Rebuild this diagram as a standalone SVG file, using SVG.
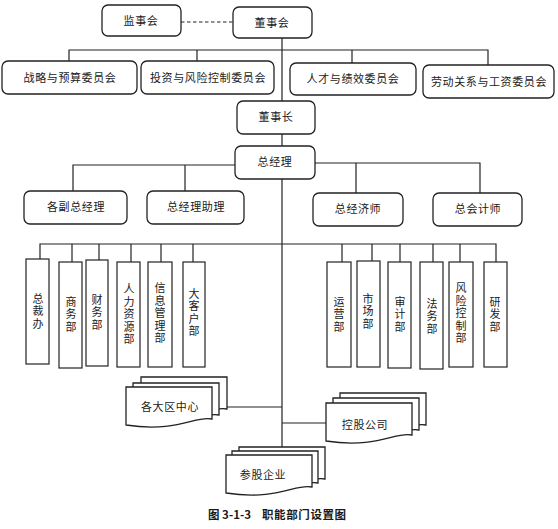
<svg xmlns="http://www.w3.org/2000/svg" xmlns:xlink="http://www.w3.org/1999/xlink" width="558" height="529" viewBox="0 0 558 529">
<style>
.bx{fill:#fff;stroke:#222;stroke-width:1.3}
.vb{fill:#fff;stroke:#222;stroke-width:1.2}
.ln{fill:none;stroke:#222;stroke-width:1.2}
.dash{fill:none;stroke:#222;stroke-width:1.2;stroke-dasharray:3.5 2.5}
text{font-family:"Noto Sans CJK SC","Liberation Serif",serif;fill:#1a1a1a;font-size:11px}
.c{text-anchor:middle;letter-spacing:0.6px}
.v{text-anchor:middle;writing-mode:vertical-rl;letter-spacing:1.5px}
.cap{font-weight:bold;font-size:11.5px}
</style>
<defs>
<path id="doc" class="bx" d="M0,0 H86 V32 C70,28 52,46 0,38 Z"/>
</defs>
<rect width="558" height="529" fill="#fff"/>
<g id="connectors">
<line class="dash" x1="181" y1="22" x2="233" y2="22"/>
<line class="ln" x1="282" y1="38" x2="282" y2="447"/>
<polyline class="ln" points="69,61 69,50 488,50 488,65"/>
<line class="ln" x1="197" y1="50" x2="197" y2="61"/>
<line class="ln" x1="352" y1="50" x2="352" y2="63"/>
<polyline class="ln" points="235,165 73,165 73,191"/>
<line class="ln" x1="185" y1="165" x2="185" y2="191"/>
<polyline class="ln" points="315,163 480,163 480,193"/>
<line class="ln" x1="356" y1="163" x2="356" y2="193"/>
<polyline class="ln" points="40,259 40,244 496,244 496,262"/>
<line class="ln" x1="72" y1="244" x2="72" y2="262"/>
<line class="ln" x1="99" y1="244" x2="99" y2="260"/>
<line class="ln" x1="131" y1="244" x2="131" y2="262"/>
<line class="ln" x1="161" y1="244" x2="161" y2="262"/>
<line class="ln" x1="193" y1="244" x2="193" y2="262"/>
<line class="ln" x1="342" y1="244" x2="342" y2="262"/>
<line class="ln" x1="372" y1="244" x2="372" y2="261"/>
<line class="ln" x1="400" y1="244" x2="400" y2="262"/>
<line class="ln" x1="433" y1="244" x2="433" y2="262"/>
<line class="ln" x1="460" y1="244" x2="460" y2="262"/>
<line class="ln" x1="227" y1="407" x2="282" y2="407"/>
<line class="ln" x1="282" y1="423" x2="326" y2="423"/>
</g>
<g id="jianshihui"><rect class="bx" x="102" y="5" width="79" height="31" rx="6"/><text class="c" x="141" y="25">监事会</text></g>
<g id="dongshihui"><rect class="bx" x="233" y="7" width="79" height="31" rx="6"/><text class="c" x="272" y="27">董事会</text></g>
<g id="zhanlue"><rect class="bx" x="2" y="61" width="135" height="33" rx="6"/><text class="c" x="70" y="82">战略与预算委员会</text></g>
<g id="touzi"><rect class="bx" x="141" y="61" width="133" height="33" rx="6"/><text class="c" x="208" y="82">投资与风险控制委员会</text></g>
<g id="rencai"><rect class="bx" x="290" y="63" width="126" height="32" rx="6"/><text class="c" x="353" y="83">人才与绩效委员会</text></g>
<g id="laodong"><rect class="bx" x="423" y="65" width="131" height="33" rx="6"/><text class="c" x="489" y="86">劳动关系与工资委员会</text></g>
<g id="dongshizhang"><rect class="bx" x="237" y="101" width="78" height="33" rx="6"/><text class="c" x="276" y="121">董事长</text></g>
<g id="zongjingli"><rect class="bx" x="235" y="146" width="80" height="33" rx="6"/><text class="c" x="275" y="166">总经理</text></g>
<g id="fuzong"><rect class="bx" x="24" y="191" width="103" height="33" rx="6"/><text class="c" x="76" y="211">各副总经理</text></g>
<g id="zhuli"><rect class="bx" x="147" y="191" width="97" height="33" rx="6"/><text class="c" x="196" y="211">总经理助理</text></g>
<g id="jingjishi"><rect class="bx" x="313" y="193" width="90" height="33" rx="6"/><text class="c" x="358" y="213">总经济师</text></g>
<g id="kuaijishi"><rect class="bx" x="433" y="193" width="89" height="33" rx="6"/><text class="c" x="478" y="213">总会计师</text></g>

<g id="zongcaiban"><rect class="vb" x="26" y="259" width="23" height="105"/><text class="v" x="38" y="312">总裁办</text></g>
<g id="shangwubu"><rect class="vb" x="59" y="262" width="23" height="106"/><text class="v" x="71" y="315">商务部</text></g>
<g id="caiwubu"><rect class="vb" x="86" y="260" width="22" height="106"/><text class="v" x="97" y="313">财务部</text></g>
<g id="renliziyuanbu"><rect class="vb" x="117" y="262" width="23" height="105"/><text class="v" x="129" y="315">人力资源部</text></g>
<g id="xinxiguanlibu"><rect class="vb" x="148" y="262" width="24" height="105"/><text class="v" x="160" y="314">信息管理部</text></g>
<g id="dakehubu"><rect class="vb" x="183" y="262" width="22" height="105"/><text class="v" x="194" y="313">大客户部</text></g>

<g id="yunyingbu"><rect class="vb" x="327" y="262" width="24" height="105"/><text class="v" x="339" y="315">运营部</text></g>
<g id="shichangbu"><rect class="vb" x="357" y="261" width="23" height="106"/><text class="v" x="368" y="312">市场部</text></g>
<g id="shenjibu"><rect class="vb" x="388" y="262" width="23" height="106"/><text class="v" x="400" y="315">审计部</text></g>
<g id="fawubu"><rect class="vb" x="420" y="262" width="23" height="107"/><text class="v" x="432" y="317">法务部</text></g>
<g id="fengxiankongzhibu"><rect class="vb" x="449" y="262" width="24" height="105"/><text class="v" x="461" y="314">风险控制部</text></g>
<g id="yanfabu"><rect class="vb" x="484" y="262" width="23" height="105"/><text class="v" x="495" y="315">研发部</text></g>

<g id="dadaquzhongxin">
<use xlink:href="#doc" href="#doc" transform="translate(141,377)"/>
<use xlink:href="#doc" href="#doc" transform="translate(133,383)"/>
<use xlink:href="#doc" href="#doc" transform="translate(126,387)"/>
<text class="c" x="170" y="411">各大区中心</text>
</g>
<g id="konggugongsi">
<use xlink:href="#doc" href="#doc" transform="translate(340,393)"/>
<use xlink:href="#doc" href="#doc" transform="translate(333,398)"/>
<use xlink:href="#doc" href="#doc" transform="translate(326,403)"/>
<text class="c" x="365" y="429">控股公司</text>
</g>
<g id="canguqiye">
<use xlink:href="#doc" href="#doc" transform="translate(239,447)"/>
<use xlink:href="#doc" href="#doc" transform="translate(232,451)"/>
<use xlink:href="#doc" href="#doc" transform="translate(226,455)"/>
<text class="c" x="263" y="479">参股企业</text>
</g>
<g id="caption">
<text class="cap" x="208" y="519">图 3-1-3</text>
<text class="cap" x="262" y="519" style="letter-spacing:0.6px">职能部门设置图</text>
</g>
</svg>
